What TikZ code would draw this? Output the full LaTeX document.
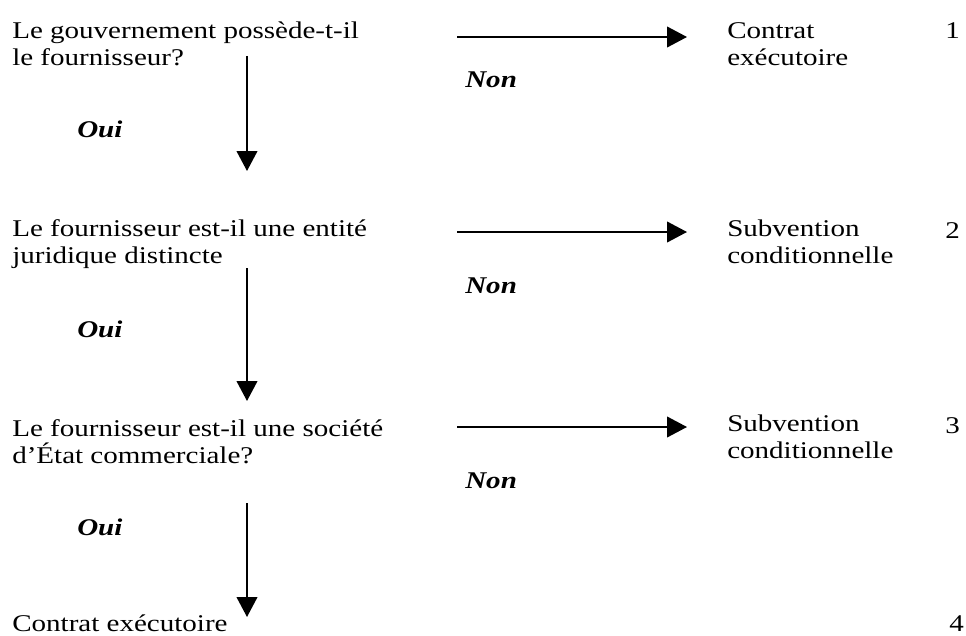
\documentclass[tikz,border=0pt]{standalone}
\usepackage{fontspec}
\setmainfont{Liberation Serif}[FakeStretch=1.21]
\usetikzlibrary{arrows.meta,positioning}

\begin{document}
\begin{tikzpicture}[x=0.75pt, y=-0.75pt, >={Triangle[length=15pt,width=15.5pt]},
  txt/.style={anchor=base west, inner sep=0pt, align=left, font=\fontsize{18}{20}\selectfont},
  lbl/.style={anchor=base west, inner sep=0pt, font=\fontsize{18}{20}\selectfont\bfseries\itshape},
  arr/.style={->, line width=1.5pt}]
  \useasboundingbox (0,0) rectangle (966,635);
  % question 1
  \node[txt] (q1) at (12,65) {Le gouvernement possède-t-il\\le fournisseur?};
  \node[lbl] (oui1) at (77,137) {Oui};
  \node[lbl] (non1) at (465,88) {Non};
  \node[txt] (r1) at (727,65) {Contrat\\exécutoire};
  \node[txt] (n1) at (945,39) {1};
  \coordinate (h1s) at (457,37); \coordinate (h1e) at (687,37);
  \coordinate (v1s) at (247,56); \coordinate (v1e) at (247,171);
  \draw[arr] (h1s) -- (h1e);
  \draw[arr] (v1s) -- (v1e);
  % question 2
  \node[txt] (q2) at (12,263) {Le fournisseur est-il une entité\\juridique distincte};
  \node[lbl] (oui2) at (77,337) {Oui};
  \node[lbl] (non2) at (465,293) {Non};
  \node[txt] (r2) at (727,263) {Subvention\\conditionnelle};
  \node[txt] (n2) at (945,238) {2};
  \coordinate (h2s) at (457,232); \coordinate (h2e) at (687,232);
  \coordinate (v2s) at (247,268); \coordinate (v2e) at (247,401);
  \draw[arr] (h2s) -- (h2e);
  \draw[arr] (v2s) -- (v2e);
  % question 3
  \node[txt] (q3) at (12,463) {Le fournisseur est-il une société\\d’État commerciale?};
  \node[lbl] (oui3) at (77,535) {Oui};
  \node[lbl] (non3) at (465,488) {Non};
  \node[txt] (r3) at (727,458) {Subvention\\conditionnelle};
  \node[txt] (n3) at (945,433) {3};
  \coordinate (h3s) at (457,427); \coordinate (h3e) at (687,427);
  \coordinate (v3s) at (247,503); \coordinate (v3e) at (247,617);
  \draw[arr] (h3s) -- (h3e);
  \draw[arr] (v3s) -- (v3e);
  % result
  \node[txt] (q4) at (12,631) {Contrat exécutoire};
  \node[txt] (n4) at (949,631) {4};
\end{tikzpicture}
\end{document}
